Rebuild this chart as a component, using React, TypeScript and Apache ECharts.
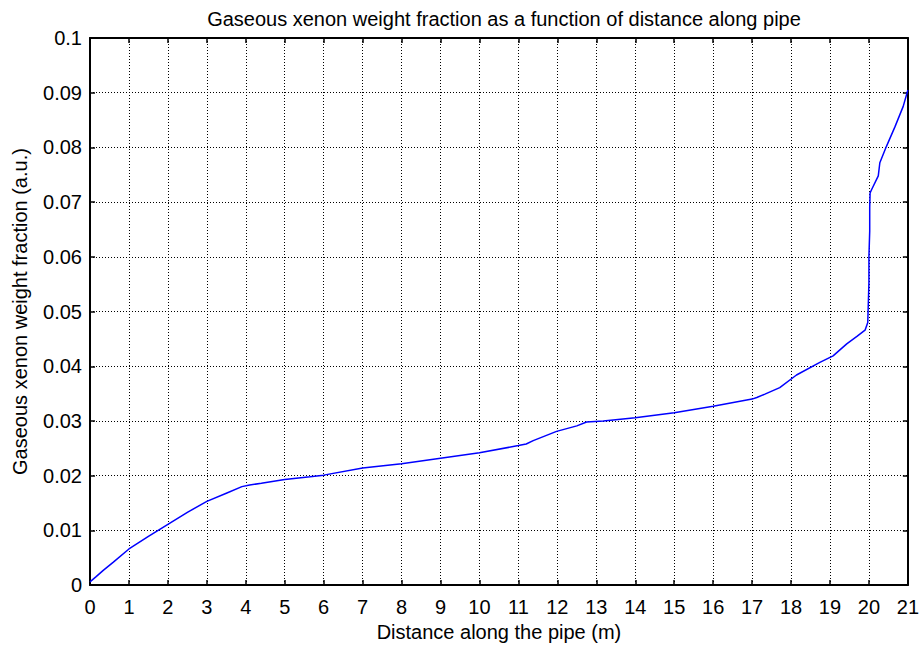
import React, { useEffect, useRef } from "react";
import * as echarts from "echarts";

// Distance along the pipe (m)
const distance = [
  0, 0.15, 0.34, 0.6, 1.0, 1.5, 2.0, 2.5, 3.0, 3.5, 3.9, 4.1, 4.4, 5.0, 5.65, 6.0,
  7.0, 8.0, 9.0, 10.0, 11.0, 11.2, 11.38, 11.98, 12.5, 12.75, 13.18, 14.0, 15.0,
  16.0, 17.0, 17.12, 17.33, 17.71, 18.14, 18.74, 19.08, 19.43, 19.7, 19.9,
  19.95, 19.97, 20.0, 20.0, 20.02, 20.02, 20.03, 20.07, 20.24, 20.28, 20.45,
  20.67, 20.88, 21.0,
];

// Gaseous xenon weight fraction (a.u.)
const fraction = [
  0.0006, 0.0015, 0.0027, 0.0042, 0.0066, 0.0089, 0.0111, 0.0133, 0.0153,
  0.0168, 0.0180, 0.0183, 0.0186, 0.0193, 0.0198, 0.0201, 0.0214, 0.0222,
  0.0232, 0.0242, 0.0255, 0.0258, 0.0264, 0.0281, 0.0291, 0.0298, 0.0300,
  0.0306, 0.0315, 0.0327, 0.0340, 0.0343, 0.0349, 0.0361, 0.0384, 0.0407,
  0.0419, 0.0441, 0.0455, 0.0466, 0.0476, 0.0480, 0.0553, 0.0600, 0.0647,
  0.0690, 0.0717, 0.0723, 0.0748, 0.0772, 0.0802, 0.0838, 0.0875, 0.0905,
];

const xTicks = { min: 0, max: 21, interval: 1 };
const yTicks = { min: 0, max: 0.1, interval: 0.01 };

const FONT = "Liberation Sans, Arial, sans-serif";
const SIZE = 20;

export default function App() {
  const ref = useRef<HTMLDivElement>(null);

  useEffect(() => {
    if (!ref.current) return;
    const chart = echarts.init(ref.current, undefined, { renderer: "svg" });

    const gridLine = {
      show: true,
      lineStyle: { color: "#000", type: [1, 2] as any, width: 1 },
    };
    const frameLine = { show: true, onZero: false, lineStyle: { color: "#000", width: 2 } };
    const tick = { show: true, inside: true, length: 5, lineStyle: { color: "#000", width: 1.5 } };
    const label = { color: "#000", fontFamily: FONT, fontSize: SIZE };
    const nameStyle = { color: "#000", fontFamily: FONT, fontSize: SIZE };

    chart.setOption({
      animation: false,
      backgroundColor: "#fff",
      title: {
        text: "Gaseous xenon weight fraction as a function of distance along pipe",
        left: 499,
        top: 4,
        textAlign: "center",
        textStyle: { color: "#000", fontFamily: FONT, fontSize: SIZE, fontWeight: "normal" },
      },
      grid: { left: 90, right: 14, top: 38, bottom: 59 },
      xAxis: [
        {
          type: "value",
          position: "bottom",
          ...xTicks,
          name: "Distance along the pipe (m)",
          nameLocation: "middle",
          nameGap: 33,
          nameTextStyle: nameStyle,
          axisLine: frameLine,
          axisTick: tick,
          axisLabel: { ...label, margin: 12 },
          splitLine: gridLine,
        },
        {
          type: "value",
          position: "top",
          ...xTicks,
          axisLine: frameLine,
          axisTick: tick,
          axisLabel: { show: false },
          splitLine: { show: false },
        },
      ],
      yAxis: [
        {
          type: "value",
          position: "left",
          ...yTicks,
          name: "Gaseous xenon weight fraction (a.u.)",
          nameLocation: "middle",
          nameGap: 60,
          nameTextStyle: nameStyle,
          axisLine: frameLine,
          axisTick: tick,
          axisLabel: {
            ...label,
            margin: 8,
            formatter: (v: number) => String(parseFloat(v.toFixed(2))),
          },
          splitLine: gridLine,
        },
        {
          type: "value",
          position: "right",
          ...yTicks,
          axisLine: frameLine,
          axisTick: tick,
          axisLabel: { show: false },
          splitLine: { show: false },
        },
      ],
      series: [
        {
          type: "line",
          data: distance.map((d, i) => [d, fraction[i]]),
          showSymbol: false,
          lineStyle: { color: "#0000ff", width: 1.5 },
          itemStyle: { color: "#0000ff" },
        },
      ],
    });

    return () => chart.dispose();
  }, []);

  return <div ref={ref} style={{ width: 922, height: 647, position: "absolute", left: 0, top: 0 }} />;
}
